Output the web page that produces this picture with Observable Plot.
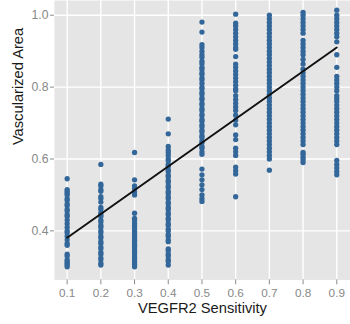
<!DOCTYPE html>
<html>
<head>
<meta charset="utf-8">
<script src="https://cdn.jsdelivr.net/npm/d3@7"></script>
<script src="https://cdn.jsdelivr.net/npm/@observablehq/plot@0.6"></script>
<style>
  html, body { margin: 0; padding: 0; background: white; overflow: hidden; width: 350px; height: 324px; }
</style>
</head>
<body>
<div id="chart"></div>
<script>
const sensitivity = [0.1, 0.2, 0.3, 0.4, 0.5, 0.6, 0.7, 0.8, 0.9];
const yTicks = [0.4, 0.6, 0.8, 1.0];
const xLabel = "VEGFR2 Sensitivity";
const yLabel = "Vascularized Area";

const area01 = [0.545,0.515,0.51,0.505,0.50,0.49,0.485,0.475,0.47,0.46,0.455,0.445,0.44,0.43,0.42,0.41,0.40,0.395,0.385,0.375,0.365,0.36,0.335,0.33,0.32,0.315,0.31,0.305,0.30];
const area02 = [0.585,0.53,0.525,0.515,0.51,0.495,0.49,0.48,0.465,0.46,0.45,0.445,0.44,0.43,0.425,0.415,0.41,0.40,0.395,0.385,0.38,0.37,0.365,0.355,0.35,0.34,0.335,0.325,0.32,0.31,0.305];
const area03 = [0.618,0.542,0.525,0.517,0.508,0.50,0.449,0.435,0.43,0.422,0.415,0.408,0.40,0.395,0.388,0.381,0.374,0.367,0.36,0.353,0.345,0.34,0.333,0.326,0.32,0.313,0.306,0.30];
const area04 = [0.711,0.67,0.635,0.625,0.618,0.61,0.60,0.595,0.585,0.58,0.57,0.565,0.555,0.55,0.54,0.535,0.525,0.52,0.51,0.505,0.495,0.49,0.48,0.475,0.465,0.46,0.45,0.445,0.435,0.43,0.42,0.415,0.405,0.40,0.39,0.385,0.375,0.37,0.35,0.345,0.335,0.33,0.32,0.315,0.305];
const area05 = [0.981,0.953,0.918,0.91,0.90,0.89,0.883,0.872,0.865,0.855,0.85,0.84,0.835,0.825,0.82,0.81,0.80,0.795,0.785,0.78,0.77,0.765,0.755,0.75,0.74,0.735,0.725,0.72,0.71,0.705,0.695,0.69,0.68,0.675,0.665,0.66,0.65,0.645,0.635,0.63,0.62,0.613,0.572,0.556,0.542,0.528,0.515,0.50,0.49,0.482];
const area06 = [1.003,0.978,0.97,0.96,0.95,0.94,0.93,0.92,0.91,0.905,0.885,0.864,0.855,0.845,0.835,0.825,0.815,0.805,0.795,0.79,0.776,0.765,0.755,0.745,0.735,0.722,0.708,0.695,0.667,0.654,0.63,0.62,0.61,0.577,0.567,0.558,0.495];
const area07 = [1.0,0.99,0.98,0.97,0.96,0.95,0.94,0.93,0.92,0.91,0.90,0.89,0.88,0.87,0.86,0.85,0.84,0.83,0.82,0.81,0.80,0.79,0.78,0.77,0.76,0.75,0.74,0.73,0.72,0.71,0.70,0.69,0.68,0.67,0.66,0.65,0.64,0.63,0.62,0.61,0.60,0.569];
const area08 = [1.008,1.0,0.99,0.98,0.97,0.96,0.95,0.93,0.92,0.91,0.90,0.89,0.877,0.864,0.85,0.84,0.83,0.82,0.81,0.80,0.79,0.78,0.77,0.76,0.75,0.74,0.73,0.72,0.71,0.70,0.69,0.68,0.67,0.66,0.65,0.64,0.618,0.613,0.605,0.598,0.59];
const area09 = [1.014,1.0,0.99,0.98,0.97,0.96,0.95,0.94,0.926,0.89,0.855,0.83,0.82,0.81,0.80,0.79,0.776,0.768,0.76,0.75,0.74,0.73,0.72,0.71,0.70,0.69,0.68,0.67,0.66,0.65,0.64,0.596,0.585,0.575,0.565,0.556];

const fitX = [0.1, 0.9];
const fitY = [0.381, 0.91];

const columns = [area01, area02, area03, area04, area05, area06, area07, area08, area09];
const points = columns.flatMap((col, i) => col.map(v => ({x: sensitivity[i], y: v})));
const fit = fitX.map((x, i) => ({x, y: fitY[i]}));

const chart = Plot.plot({
  width: 357,
  height: 324,
  marginLeft: 55,
  marginRight: 0,
  marginTop: 0,
  marginBottom: 39,
  style: {fontFamily: "'Liberation Sans', Arial, sans-serif", fontSize: "12px", background: "white", overflow: "visible"},
  x: {domain: [0.0622, 0.9407]},
  y: {domain: [0.2636, 1.041]},
  marks: [
    Plot.frame({fill: "#E5E5E5", stroke: null}),
    Plot.gridX(sensitivity, {stroke: "white", strokeOpacity: 1, strokeWidth: 1.4}),
    Plot.gridY(yTicks, {stroke: "white", strokeOpacity: 1, strokeWidth: 1.4}),
    Plot.dot(points, {x: "x", y: "y", r: 2.7, fill: "#33679A", stroke: null}),
    Plot.line(fit, {x: "x", y: "y", stroke: "#111", strokeWidth: 2}),
    Plot.axisX(sensitivity, {tickFormat: d3.format(".1f"), label: null, tickSize: 5, tickPadding: 4, color: "#888", fontSize: 12}),
    Plot.axisY(yTicks, {tickFormat: d3.format(".1f"), label: null, tickSize: 4, tickPadding: 2, color: "#888", fontSize: 12.5}),
    Plot.text([xLabel], {frameAnchor: "bottom", lineAnchor: "middle", dy: 29, fontSize: 15, fill: "#1a1a1a"}),
    Plot.text([yLabel], {frameAnchor: "left", dx: -37, dy: 5, rotate: -90, fontSize: 15, fill: "#1a1a1a"})
  ]
});
document.getElementById("chart").appendChild(chart);
</script>
</body>
</html>
